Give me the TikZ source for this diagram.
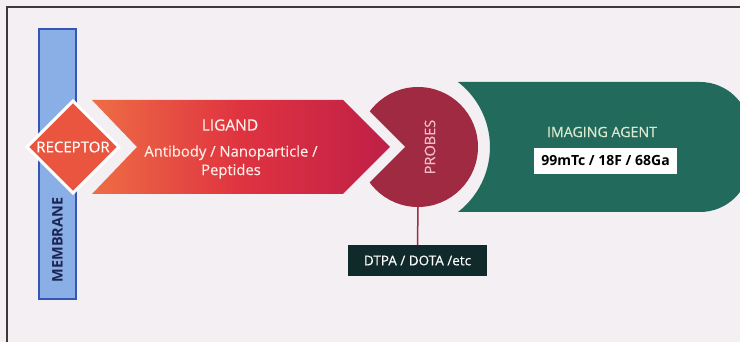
\documentclass[tikz,border=0pt]{standalone}
\usepackage{fontspec}
\setmainfont{Open Sans}
\newfontfamily\medfont{Open Sans}[FakeBold=0.35]
\definecolor{bg}{HTML}{F3EFF3}
\definecolor{framec}{HTML}{3A3A3A}
\definecolor{memfill}{HTML}{8AAEE6}
\definecolor{memdraw}{HTML}{3556B5}
\definecolor{memtext}{HTML}{1B2552}
\definecolor{receptorc}{HTML}{E9553F}
\definecolor{ligleft}{HTML}{EE6D45}
\definecolor{ligmid}{HTML}{DF3340}
\definecolor{ligright}{HTML}{BF1F47}
\definecolor{ligtext}{HTML}{FFEDE6}
\definecolor{probesc}{HTML}{A12A43}
\definecolor{probestext}{HTML}{F2BCCB}
\definecolor{dtpac}{HTML}{102A2C}
\definecolor{agentc}{HTML}{226B5C}
\definecolor{agenttext}{HTML}{D9E8CF}
\begin{document}
\begin{tikzpicture}[x=1pt,y=1pt,
  txt/.style={inner sep=0pt, font=\medfont\fontsize{13}{15}\selectfont},
  boldtxt/.style={inner sep=0pt, font=\fontsize{13}{15}\selectfont\bfseries},
]
\useasboundingbox (0,0) rectangle (740,342);
\fill[bg] (0,0) rectangle (740,342);
\draw[framec, line width=1.5] (7,-5) -- (7,335) -- (745,335);

% membrane
\node[draw=memdraw, fill=memfill, line width=1.5, minimum width=37, minimum height=270, inner sep=0pt] (membrane) at (57.5,178) {};
\node[boldtxt, rotate=90, text=memtext, font=\fontsize{14.5}{16}\selectfont\bfseries] (memlabel) at (57.5,102) {MEMBRANE};

% receptor diamond
\filldraw[fill=receptorc, draw=white, line width=3] (27,195) -- (73,241) -- (119,195) -- (73,149) -- cycle;
\node[txt, text=white, font=\medfont\fontsize{15}{17}\selectfont] (receptor) at (73,195) {RECEPTOR};

% probes circle with notch
\node[circle, fill=probesc, minimum size=120, inner sep=0pt] (probes) at (418,195) {};
\fill[bg] (405,195) -- (325,275) -- (300,275) -- (300,115) -- (325,115) -- cycle;
\node[txt, rotate=90, text=probestext, font=\medfont\fontsize{14.5}{16}\selectfont] (probeslabel) at (430,195) {PROBES};

% ligand arrow
\shade[left color=ligleft, right color=ligright, middle color=ligmid]
  (92,242) -- (343,242) -- (390,195) -- (343,148) -- (92,148) -- (137,195) -- cycle;
\node[txt, text=ligtext, font=\medfont\fontsize{15.5}{17}\selectfont] (ligand) at (230,217) {LIGAND};
\node[txt, text=ligtext, align=center, font=\medfont\fontsize{14.8}{18.5}\selectfont] (ligsub) at (231,180) {Antibody / Nanoparticle /\\Peptides};

% imaging agent
\fill[agentc] (458,260) -- (700,260) arc[start angle=90, end angle=0, radius=50]
  -- (750,180) arc[start angle=0, end angle=-90, radius=50]
  -- (458,130) arc[start angle=-52.4, end angle=52.4, radius=82] -- cycle;
\node[txt, text=agenttext, font=\medfont\fontsize{14.2}{16}\selectfont] (agent) at (602,210) {IMAGING AGENT};
\node[boldtxt, fill=white, minimum width=143, minimum height=26, font=\fontsize{14}{16}\selectfont\bfseries] (isotopes) at (605.5,181) {99mTc / 18F / 68Ga};

% chelator
\node[txt, fill=dtpac, text=white, minimum width=139, minimum height=31, font=\medfont\fontsize{13.5}{15}\selectfont] (dtpa) at (417.5,81.5) {DTPA / DOTA /etc};
\draw[probesc, line width=1.5] (probes.south) -- (dtpa.north);
\end{tikzpicture}
\end{document}
